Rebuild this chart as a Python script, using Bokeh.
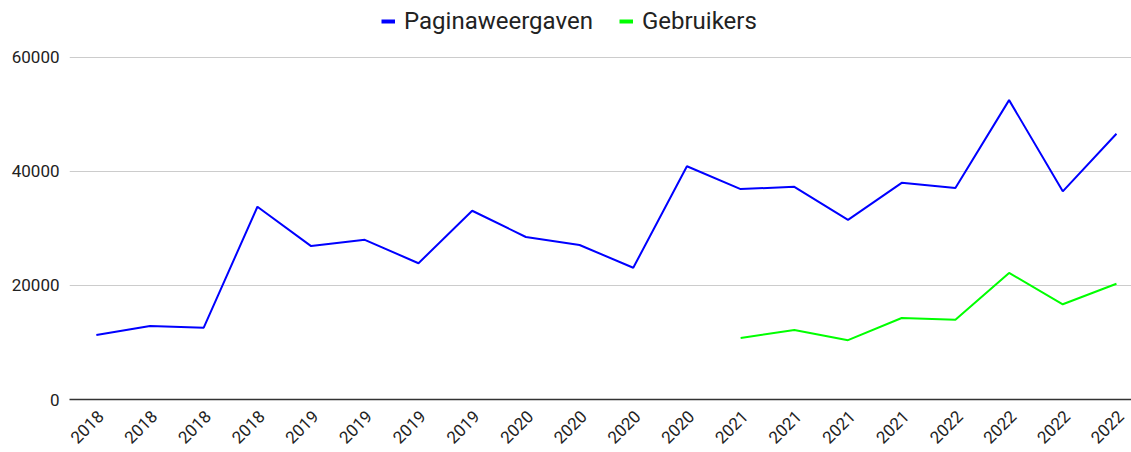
import math
from bokeh.plotting import figure
from bokeh.models import Legend, LegendItem, FixedTicker, Range1d, CustomJSTickFormatter
from bokeh.embed import file_html
from bokeh.resources import INLINE

labels = ["2018", "2018", "2018", "2018", "2019", "2019", "2019", "2019",
          "2020", "2020", "2020", "2020", "2021", "2021", "2021", "2021",
          "2022", "2022", "2022", "2022"]
pageviews = [11300, 12900, 12600, 33800, 26900, 28000, 23900, 33100,
             28500, 27100, 23100, 40900, 36900, 37300, 31500, 38000,
             37100, 52500, 36500, 46600]
users_idx = [12, 13, 14, 15, 16, 17, 18, 19]
users = [10800, 12200, 10400, 14300, 14000, 22200, 16700, 20300]

xs = list(range(len(labels)))

p = figure(width=1131, height=452, output_backend="svg", toolbar_location=None,
           x_range=Range1d(-0.5, 19.28), y_range=Range1d(0, 69971),
           min_border_left=69, min_border_right=0, min_border_top=0, min_border_bottom=52)
p.outline_line_color = None
p.background_fill_color = "white"

r1 = p.line(xs, pageviews, line_color="#0000ff", line_width=2)
r2 = p.line(users_idx, users, line_color="#00ff00", line_width=2)
# legend swatches (thicker; a single NaN point draws nothing on the plot)
l1 = p.line([math.nan], [math.nan], line_color="#0000ff", line_width=4)
l2 = p.line([math.nan], [math.nan], line_color="#00ff00", line_width=4)

p.yaxis.ticker = FixedTicker(ticks=[0, 20000, 40000, 60000])
p.yaxis.axis_line_color = None
p.yaxis.major_tick_line_color = None
p.yaxis.minor_tick_line_color = None
p.yaxis.major_tick_out = 0
p.yaxis.major_tick_in = 0
p.yaxis.major_label_text_font = "Roboto"
p.yaxis.major_label_text_font_size = "17px"
p.yaxis.major_label_text_color = "#222222"
p.yaxis.major_label_standoff = 10
p.yaxis.formatter.use_scientific = False

p.xaxis.ticker = FixedTicker(ticks=[i + 0.08 for i in xs])
p.xaxis.formatter = CustomJSTickFormatter(args=dict(labels=labels),
                                          code="return labels[Math.round(tick)];")
p.xaxis.major_label_orientation = math.pi / 4
p.xaxis.major_tick_line_color = None
p.xaxis.minor_tick_line_color = None
p.xaxis.major_tick_out = 0
p.xaxis.major_tick_in = 0
p.xaxis.axis_line_color = "#333333"
p.xaxis.axis_line_width = 1.5
p.xaxis.major_label_text_font = "Roboto"
p.xaxis.major_label_text_font_size = "17px"
p.xaxis.major_label_text_color = "#222222"
p.xaxis.major_label_standoff = 14

p.xgrid.grid_line_color = None
p.ygrid.grid_line_color = "#cccccc"
p.ygrid.grid_line_width = 1

legend = Legend(items=[LegendItem(label="Paginaweergaven", renderers=[l1]),
                       LegendItem(label="Gebruikers", renderers=[l2])],
                orientation="horizontal", location=(312, 364))
legend.label_text_font = "Roboto"
legend.label_text_font_size = "24px"
legend.label_text_color = "#222222"
legend.glyph_width = 14
legend.glyph_height = 24
legend.spacing = 26
legend.label_standoff = 9
legend.border_line_color = None
legend.background_fill_alpha = 0
legend.margin = 0
legend.padding = 4
p.add_layout(legend, "center")

open("out.html", "w").write(file_html(p, INLINE))
